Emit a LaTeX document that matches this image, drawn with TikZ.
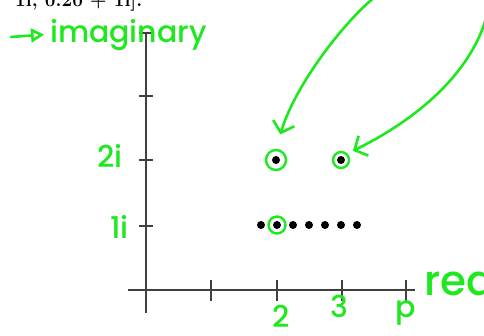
\documentclass[tikz,border=0pt]{standalone}
\usepackage{fontspec}
\newfontfamily\handfont{Poppins}[UprightFont={* Medium}]
\usepackage{xcolor}
\usetikzlibrary{arrows.meta,positioning}

\definecolor{penGreen}{RGB}{30,232,30}

\begin{document}
\begin{tikzpicture}[
  x=1pt, y=-1pt,
  axis/.style={draw=black!75, line width=2.6pt},
  tick/.style={draw=black!75, line width=2pt},
  dot/.style={circle, fill=black, inner sep=0pt, minimum size=8pt},
  ring/.style={circle, draw=penGreen, line width=2.4pt, inner sep=0pt},
  pen/.style={draw=penGreen, line width=2.6pt, line cap=round, line join=round},
  penarr/.style={pen, -{Straight Barb[length=10pt, width=22pt, line width=2.6pt]}},
  hand/.style={font=\handfont\fontsize{30}{30}\selectfont, text=penGreen, inner sep=0pt},
]
\clip (0,0) rectangle (484,335);

% leftover text from the page above
\node[anchor=base west, font=\bfseries\fontsize{19}{19}\selectfont, inner sep=0pt] (caption) at (15,6) {1i, 0.20 + 1i].};

% axes
\draw[axis] (146,33) -- (146,313);
\draw[axis] (128,290) -- (415,290);
\foreach \y in {33,96,160,226}
  \draw[tick] (139,\y) -- (153,\y);
\foreach \x in {211,277,342,406}
  \draw[tick] (\x,280) -- (\x,301);

% points
\foreach \i/\x in {1/261,2/277,3/293,4/309,5/325,6/341,7/357}
  \node[dot] (r\i) at (\x,225) {};
\node[dot] (p1) at (276,160) {};
\node[dot] (p2) at (341,160) {};

\node[ring, minimum size=17pt] (c1) at (r2) {};
\node[ring, minimum size=20pt] (c2) at (p1) {};
\node[ring, minimum size=16pt] (c3) at (p2) {};

% annotations
\coordinate (tailA) at (375,-3);
\coordinate (tailB) at (486,18);
\draw[penarr, shorten >=15pt] (tailA) .. controls (348,18) and (296,82) .. (c2.north);
\draw[penarr, shorten >=6pt] (tailB) .. controls (474,62) and (432,112) .. (c3.north east);

\node[hand, anchor=base west] (imag) at (50,42) {imaginary};
\coordinate (imagTail) at (11,37);
\draw[pen, -{Triangle[open, length=13pt, width=14pt, line width=2.6pt]}] (imagTail) -- ([xshift=-6pt]imag.west);

\node[hand, anchor=base east] (lbl2i) at (123,167) {2i};
\node[hand, anchor=base east] (lbl1i) at (129,238) {1i};
\node[hand, anchor=base] (lbl2) at (281,327) {2};
\node[hand, anchor=base] (lbl3) at (339,317) {3};
\node[hand, anchor=base] (lblp) at (406,317) {p};
\node[hand, anchor=base west, font=\handfont\fontsize{42}{42}\selectfont] (real) at (424,295) {real};
\end{tikzpicture}
\end{document}
